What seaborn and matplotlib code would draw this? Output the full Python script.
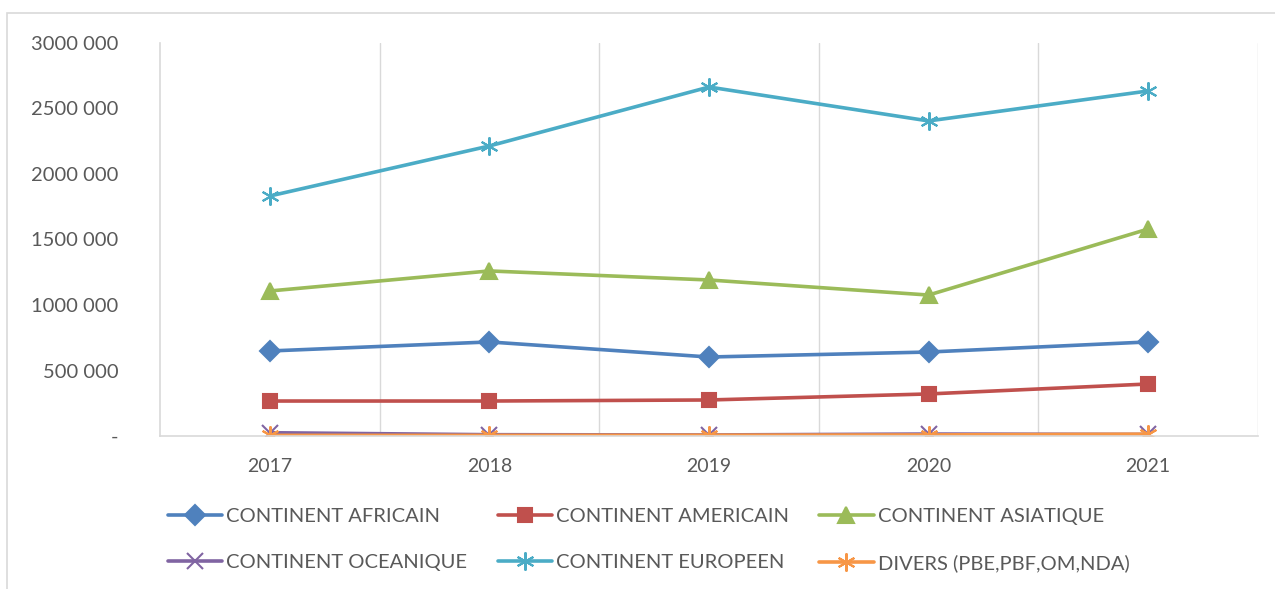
import pandas as pd
import seaborn as sns
from matplotlib import pyplot as plt
from matplotlib.ticker import FuncFormatter, FixedLocator
from matplotlib.patches import Rectangle

years = ["2017", "2018", "2019", "2020", "2021"]
africain = [649000, 718000, 603000, 641000, 718000]
americain = [267000, 267000, 275000, 321000, 397000]
asiatique = [1107000, 1260000, 1191000, 1076000, 1580000]
oceanique = [25000, 10000, 8000, 15000, 12000]
europeen = [1832000, 2214000, 2664000, 2405000, 2634000]
divers = [5000, 5000, 6000, 8000, 14000]

series_names = [
    "CONTINENT AFRICAIN",
    "CONTINENT AMERICAIN",
    "CONTINENT ASIATIQUE",
    "CONTINENT OCEANIQUE",
    "CONTINENT EUROPEEN",
    "DIVERS (PBE,PBF,OM,NDA)",
]
series_values = [africain, americain, asiatique, oceanique, europeen, divers]
colors = ["#4F81BD", "#C0504D", "#9BBB59", "#8064A2", "#4BACC6", "#F79646"]
markers = ["D", "s", "^", "x", (6, 2, 0), (6, 2, 0)]
msizes = [10, 10, 11, 11, 13, 13]

sns.set_theme(style="white")
plt.rcParams["font.family"] = ["Lato", "DejaVu Sans"]
text_color = "#595959"

fig = plt.figure(figsize=(12.75, 5.89), dpi=100)
ax = fig.add_axes([160 / 1275, 1 - 436 / 589, 1098 / 1275, 393 / 589])

for name, vals, c, m, ms in zip(series_names, series_values, colors, markers, msizes):
    sns.lineplot(
        x=years, y=vals, color=c, marker=m, label=name,
        linewidth=2.6, markersize=ms, markeredgewidth=1.5,
        markeredgecolor=c, ax=ax,
    )

ax.set_xlim(-0.5, 4.5)
ax.set_ylim(0, 3000000)
ax.set_yticks([0, 500000, 1000000, 1500000, 2000000, 2500000, 3000000])

def fmt(v, pos):
    v = int(round(v))
    if v == 0:
        return "-"
    return f"{v // 1000} {v % 1000:03d}"

ax.yaxis.set_major_formatter(FuncFormatter(fmt))
ax.xaxis.set_minor_locator(FixedLocator([0.5, 1.5, 2.5, 3.5, 4.5]))
ax.grid(False)
ax.grid(True, which="minor", axis="x", color="#D9D9D9", linewidth=1)
ax.tick_params(axis="both", which="both", length=0, colors=text_color, labelsize=14.5)
ax.tick_params(axis="y", pad=30)
ax.tick_params(axis="x", pad=16)
for lbl in ax.get_xticklabels():
    lbl.set_fontsize(14)
ax.set_xlabel("")
ax.set_ylabel("")
for side in ["top", "right"]:
    ax.spines[side].set_visible(False)
for side in ["left", "bottom"]:
    ax.spines[side].set_color("#D9D9D9")
    ax.spines[side].set_linewidth(1.2)

handles, labels = ax.get_legend_handles_labels()
order = [0, 3, 1, 4, 2, 5]
ax.legend(
    [handles[i] for i in order], [labels[i] for i in order],
    ncol=3, loc="upper left", bbox_to_anchor=(160 / 1275, 1 - 500 / 589),
    bbox_transform=fig.transFigure, frameon=False, fontsize=14.5,
    handlelength=2.7, handletextpad=0.2, columnspacing=1.5,
    labelspacing=1.45, labelcolor=text_color, borderaxespad=0,
)

fig.patches.append(Rectangle((7 / 1275, -0.05), 1.2, 1 - 13 / 589 + 0.05,
                             transform=fig.transFigure, fill=False,
                             edgecolor="#D9D9D9", linewidth=1.2))

fig.savefig("out.png", dpi=100)
